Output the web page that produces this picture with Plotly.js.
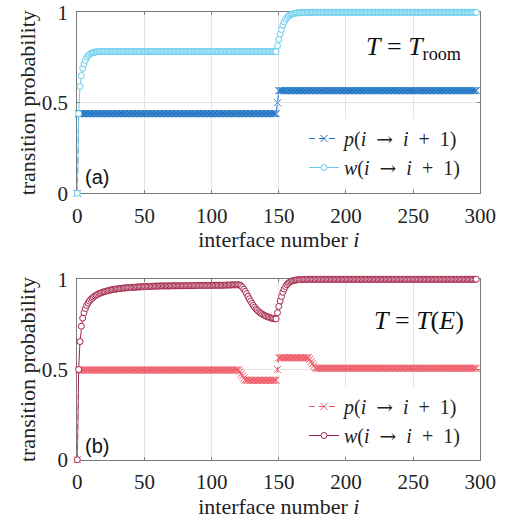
<!DOCTYPE html>
<html><head><meta charset="utf-8">
<script src="https://cdn.plot.ly/plotly-3.0.1.min.js"></script>
<style>html,body{margin:0;padding:0;background:#fff}#chart{width:510px;height:523px}</style>
</head><body><div id="chart"></div>
<script>
// interface number i runs from 0 to 297 (x0 = 0, dx = 1)
const xTicks = [0, 50, 100, 150, 200, 250, 300];
const yTicks = [0, 0.5, 1];

// (a) T = T_room
const pRoom = [
0,0.44,0.44,0.44,0.44,0.44,0.44,0.44,0.44,0.44,
0.44,0.44,0.44,0.44,0.44,0.44,0.44,0.44,0.44,0.44,
0.44,0.44,0.44,0.44,0.44,0.44,0.44,0.44,0.44,0.44,
0.44,0.44,0.44,0.44,0.44,0.44,0.44,0.44,0.44,0.44,
0.44,0.44,0.44,0.44,0.44,0.44,0.44,0.44,0.44,0.44,
0.44,0.44,0.44,0.44,0.44,0.44,0.44,0.44,0.44,0.44,
0.44,0.44,0.44,0.44,0.44,0.44,0.44,0.44,0.44,0.44,
0.44,0.44,0.44,0.44,0.44,0.44,0.44,0.44,0.44,0.44,
0.44,0.44,0.44,0.44,0.44,0.44,0.44,0.44,0.44,0.44,
0.44,0.44,0.44,0.44,0.44,0.44,0.44,0.44,0.44,0.44,
0.44,0.44,0.44,0.44,0.44,0.44,0.44,0.44,0.44,0.44,
0.44,0.44,0.44,0.44,0.44,0.44,0.44,0.44,0.44,0.44,
0.44,0.44,0.44,0.44,0.44,0.44,0.44,0.44,0.44,0.44,
0.44,0.44,0.44,0.44,0.44,0.44,0.44,0.44,0.44,0.44,
0.44,0.44,0.44,0.44,0.44,0.44,0.44,0.44,0.44,0.5,
0.567,0.567,0.567,0.567,0.567,0.567,0.567,0.567,0.567,0.567,
0.567,0.567,0.567,0.567,0.567,0.567,0.567,0.567,0.567,0.567,
0.567,0.567,0.567,0.567,0.567,0.567,0.567,0.567,0.567,0.567,
0.567,0.567,0.567,0.567,0.567,0.567,0.567,0.567,0.567,0.567,
0.567,0.567,0.567,0.567,0.567,0.567,0.567,0.567,0.567,0.567,
0.567,0.567,0.567,0.567,0.567,0.567,0.567,0.567,0.567,0.567,
0.567,0.567,0.567,0.567,0.567,0.567,0.567,0.567,0.567,0.567,
0.567,0.567,0.567,0.567,0.567,0.567,0.567,0.567,0.567,0.567,
0.567,0.567,0.567,0.567,0.567,0.567,0.567,0.567,0.567,0.567,
0.567,0.567,0.567,0.567,0.567,0.567,0.567,0.567,0.567,0.567,
0.567,0.567,0.567,0.567,0.567,0.567,0.567,0.567,0.567,0.567,
0.567,0.567,0.567,0.567,0.567,0.567,0.567,0.567,0.567,0.567,
0.567,0.567,0.567,0.567,0.567,0.567,0.567,0.567,0.567,0.567,
0.567,0.567,0.567,0.567,0.567,0.567,0.567,0.567,0.567,0.567,
0.567,0.567,0.567,0.567,0.567,0.567,0.567,0.567
];
const wRoom = [
0,0.44,0.59,0.65,0.69,0.715,0.735,0.75,0.76,0.767,
0.772,0.776,0.778,0.78,0.781,0.782,0.783,0.783,0.783,0.783,
0.783,0.783,0.783,0.783,0.783,0.783,0.783,0.783,0.783,0.783,
0.783,0.783,0.783,0.783,0.783,0.783,0.783,0.783,0.783,0.783,
0.783,0.783,0.783,0.783,0.783,0.783,0.783,0.783,0.783,0.783,
0.783,0.783,0.783,0.783,0.783,0.783,0.783,0.783,0.783,0.783,
0.783,0.783,0.783,0.783,0.783,0.783,0.783,0.783,0.783,0.783,
0.783,0.783,0.783,0.783,0.783,0.783,0.783,0.783,0.783,0.783,
0.783,0.783,0.783,0.783,0.783,0.783,0.783,0.783,0.783,0.783,
0.783,0.783,0.783,0.783,0.783,0.783,0.783,0.783,0.783,0.783,
0.783,0.783,0.783,0.783,0.783,0.783,0.783,0.783,0.783,0.783,
0.783,0.783,0.783,0.783,0.783,0.783,0.783,0.783,0.783,0.783,
0.783,0.783,0.783,0.783,0.783,0.783,0.783,0.783,0.783,0.783,
0.783,0.783,0.783,0.783,0.783,0.783,0.783,0.783,0.783,0.783,
0.783,0.783,0.783,0.783,0.783,0.783,0.783,0.783,0.783,0.815,
0.85,0.88,0.905,0.928,0.946,0.96,0.97,0.978,0.984,0.988,
0.991,0.993,0.995,0.996,0.997,0.998,0.998,0.998,0.999,0.999,
0.999,1,1,1,1,1,1,1,1,1,
1,1,1,1,1,1,1,1,1,1,
1,1,1,1,1,1,1,1,1,1,
1,1,1,1,1,1,1,1,1,1,
1,1,1,1,1,1,1,1,1,1,
1,1,1,1,1,1,1,1,1,1,
1,1,1,1,1,1,1,1,1,1,
1,1,1,1,1,1,1,1,1,1,
1,1,1,1,1,1,1,1,1,1,
1,1,1,1,1,1,1,1,1,1,
1,1,1,1,1,1,1,1,1,1,
1,1,1,1,1,1,1,1,1,1,
1,1,1,1,1,1,1,1
];

// (b) T = T(E)
const pE = [
0,0.497,0.497,0.497,0.497,0.497,0.497,0.497,0.497,0.497,
0.497,0.497,0.497,0.497,0.497,0.497,0.497,0.497,0.497,0.497,
0.497,0.497,0.497,0.497,0.497,0.497,0.497,0.497,0.497,0.497,
0.497,0.497,0.497,0.497,0.497,0.497,0.497,0.497,0.497,0.497,
0.497,0.497,0.497,0.497,0.497,0.497,0.497,0.497,0.497,0.497,
0.497,0.497,0.497,0.497,0.497,0.497,0.497,0.497,0.497,0.497,
0.497,0.497,0.497,0.497,0.497,0.497,0.497,0.497,0.497,0.497,
0.497,0.497,0.497,0.497,0.497,0.497,0.497,0.497,0.497,0.497,
0.497,0.497,0.497,0.497,0.497,0.497,0.497,0.497,0.497,0.497,
0.497,0.497,0.497,0.497,0.497,0.497,0.497,0.497,0.497,0.497,
0.497,0.497,0.497,0.497,0.497,0.497,0.497,0.497,0.497,0.497,
0.497,0.497,0.497,0.497,0.497,0.497,0.497,0.497,0.497,0.497,
0.497,0.488,0.476,0.464,0.452,0.443,0.44,0.44,0.44,0.44,
0.44,0.44,0.44,0.44,0.44,0.44,0.44,0.44,0.44,0.44,
0.44,0.44,0.44,0.44,0.44,0.44,0.44,0.44,0.44,0.5,
0.565,0.565,0.565,0.565,0.565,0.565,0.565,0.565,0.565,0.565,
0.565,0.565,0.565,0.565,0.565,0.565,0.565,0.565,0.565,0.565,
0.565,0.565,0.565,0.556,0.544,0.532,0.52,0.51,0.507,0.507,
0.507,0.507,0.507,0.507,0.507,0.507,0.507,0.507,0.507,0.507,
0.507,0.507,0.507,0.507,0.507,0.507,0.507,0.507,0.507,0.507,
0.507,0.507,0.507,0.507,0.507,0.507,0.507,0.507,0.507,0.507,
0.507,0.507,0.507,0.507,0.507,0.507,0.507,0.507,0.507,0.507,
0.507,0.507,0.507,0.507,0.507,0.507,0.507,0.507,0.507,0.507,
0.507,0.507,0.507,0.507,0.507,0.507,0.507,0.507,0.507,0.507,
0.507,0.507,0.507,0.507,0.507,0.507,0.507,0.507,0.507,0.507,
0.507,0.507,0.507,0.507,0.507,0.507,0.507,0.507,0.507,0.507,
0.507,0.507,0.507,0.507,0.507,0.507,0.507,0.507,0.507,0.507,
0.507,0.507,0.507,0.507,0.507,0.507,0.507,0.507,0.507,0.507,
0.507,0.507,0.507,0.507,0.507,0.507,0.507,0.507,0.507,0.507,
0.507,0.507,0.507,0.507,0.507,0.507,0.507,0.507
];
const wE = [
0,0.5,0.655,0.74,0.785,0.815,0.838,0.855,0.868,0.879,
0.888,0.895,0.901,0.907,0.912,0.916,0.92,0.923,0.926,0.929,
0.931,0.933,0.935,0.937,0.939,0.941,0.942,0.944,0.945,0.946,
0.947,0.948,0.949,0.95,0.951,0.952,0.952,0.953,0.954,0.954,
0.955,0.955,0.956,0.956,0.957,0.957,0.958,0.958,0.958,0.959,
0.959,0.96,0.96,0.96,0.961,0.961,0.961,0.962,0.962,0.962,
0.962,0.963,0.963,0.963,0.963,0.963,0.963,0.963,0.963,0.963,
0.964,0.964,0.964,0.964,0.964,0.964,0.964,0.964,0.964,0.964,
0.965,0.965,0.965,0.965,0.965,0.965,0.965,0.965,0.965,0.965,
0.966,0.966,0.966,0.966,0.966,0.966,0.966,0.966,0.966,0.966,
0.967,0.967,0.967,0.967,0.967,0.967,0.967,0.967,0.967,0.967,
0.968,0.968,0.968,0.968,0.968,0.969,0.969,0.969,0.969,0.969,
0.97,0.968,0.963,0.955,0.945,0.933,0.92,0.906,0.892,0.879,
0.866,0.855,0.845,0.836,0.828,0.821,0.815,0.81,0.805,0.801,
0.797,0.794,0.791,0.788,0.786,0.784,0.782,0.781,0.78,0.815,
0.85,0.88,0.905,0.928,0.946,0.96,0.97,0.978,0.984,0.988,
0.991,0.993,0.995,0.996,0.997,0.998,0.998,0.998,0.999,0.999,
0.999,1,1,1,1,1,1,1,1,1,
1,1,1,1,1,1,1,1,1,1,
1,1,1,1,1,1,1,1,1,1,
1,1,1,1,1,1,1,1,1,1,
1,1,1,1,1,1,1,1,1,1,
1,1,1,1,1,1,1,1,1,1,
1,1,1,1,1,1,1,1,1,1,
1,1,1,1,1,1,1,1,1,1,
1,1,1,1,1,1,1,1,1,1,
1,1,1,1,1,1,1,1,1,1,
1,1,1,1,1,1,1,1,1,1,
1,1,1,1,1,1,1,1,1,1,
1,1,1,1,1,1,1,1
];

const ARROW = '<span style="font-family:\'DejaVu Serif\'">\u2192</span>';
const SP2 = '\u00a0\u00a0';
const pName = '<i>p</i>(<i>i</i>' + SP2 + ARROW + SP2 + '<i>i</i>' + SP2 + '+' + SP2 + '1)';
const wName = '<i>w</i>(<i>i</i>' + SP2 + ARROW + SP2 + '<i>i</i>' + SP2 + '+' + SP2 + '1)';

const colPRoom = '#1f74c4', colWRoom = '#62cdee';
const colPE = '#ef5d6a', colWE = '#a4264a';

const SERIF = '"Liberation Serif", "Times New Roman", Times, serif';
const SANS = '"Liberation Sans", Arial, sans-serif';

function pTrace(y, col, xa, ya, lg) {
  return {type:'scatter', mode:'lines+markers', y:y, x0:0, dx:1, xaxis:xa, yaxis:ya,
    name:pName, legend:lg, cliponaxis:false,
    line:{color:col, width:1, dash:'6px,4px'},
    marker:{symbol:'x-thin', size:7, color:col, line:{color:col, width:1}}};
}
function wTrace(y, col, xa, ya, lg) {
  return {type:'scatter', mode:'lines+markers', y:y, x0:0, dx:1, xaxis:xa, yaxis:ya,
    name:wName, legend:lg, cliponaxis:false,
    line:{color:col, width:1},
    marker:{symbol:'circle', size:6, color:'#ffffff', line:{color:col, width:1}}};
}

const data = [
  pTrace(pRoom, colPRoom, 'x', 'y', 'legend'),
  wTrace(wRoom, colWRoom, 'x', 'y', 'legend'),
  pTrace(pE, colPE, 'x2', 'y2', 'legend2'),
  wTrace(wE, colWE, 'x2', 'y2', 'legend2')
];

const frame = '#7a7a7a';
function xAx(anchor) {
  return {domain:[0.1516, 0.9418], anchor:anchor, range:[0, 300], tickvals:xTicks,
    ticks:'inside', ticklen:3, tickcolor:frame, linecolor:frame, linewidth:1, mirror:'ticks',
    showgrid:true, gridcolor:'#e4e4e4', gridwidth:1, zeroline:false, layer:'below traces',
    tickfont:{family:SERIF, size:21, color:'#222222'}, ticklabelstandoff:3,
    title:{text:'interface number <i>i</i>', font:{family:SERIF, size:22, color:'#222222'}, standoff:3}};
}
function yAx(anchor, dom) {
  return {domain:dom, anchor:anchor, range:[0, 1], tickvals:yTicks, ticktext:['0','0.5','1'],
    ticks:'inside', ticklen:3, tickcolor:frame, linecolor:frame, linewidth:1, mirror:'ticks',
    showgrid:true, gridcolor:'#e4e4e4', gridwidth:1, zeroline:false, layer:'below traces',
    tickfont:{family:SERIF, size:21, color:'#222222'}, ticklabelstandoff:4,
    title:{text:'transition probability', font:{family:SERIF, size:22, color:'#222222'}, standoff:0}};
}

const layout = {
  width:510, height:523, margin:{l:0, r:0, t:0, b:0},
  paper_bgcolor:'#ffffff', plot_bgcolor:'#ffffff',
  font:{family:SERIF, color:'#222222', size:20},
  showlegend:true,
  xaxis:xAx('y'), yaxis:yAx('x', [0.6304, 0.9765]),
  xaxis2:xAx('y2'), yaxis2:yAx('x2', [0.1210, 0.4660]),
  legend:{x:304/510, y:(523-119)/523, xanchor:'left', yanchor:'top', bgcolor:'#ffffff',
    borderwidth:0, font:{family:SERIF, size:20, color:'#222222'}, tracegroupgap:0},
  legend2:{x:304/510, y:(523-387)/523, xanchor:'left', yanchor:'top', bgcolor:'#ffffff',
    borderwidth:0, font:{family:SERIF, size:20, color:'#222222'}, tracegroupgap:0},
  annotations:[
    {xref:'paper', yref:'paper', x:463/510, y:(523-48)/523, xanchor:'right', yanchor:'middle',
     text:'<i>T</i> = <i>T</i><sub>room</sub>', showarrow:false, font:{family:SERIF, size:26, color:'#111111'}},
    {xref:'paper', yref:'paper', x:466/510, y:(523-320)/523, xanchor:'right', yanchor:'middle',
     text:'<i>T</i> = <i>T</i>(<i>E</i>)', showarrow:false, font:{family:SERIF, size:26, color:'#111111'}},
    {xref:'paper', yref:'paper', x:97/510, y:(523-177)/523, xanchor:'center', yanchor:'middle',
     text:'(a)', showarrow:false, font:{family:SANS, size:20, color:'#111111'}},
    {xref:'paper', yref:'paper', x:97/510, y:(523-446)/523, xanchor:'center', yanchor:'middle',
     text:'(b)', showarrow:false, font:{family:SANS, size:20, color:'#111111'}}
  ]
};

Plotly.newPlot('chart', data, layout, {displayModeBar:false, staticPlot:true});
</script></body></html>
